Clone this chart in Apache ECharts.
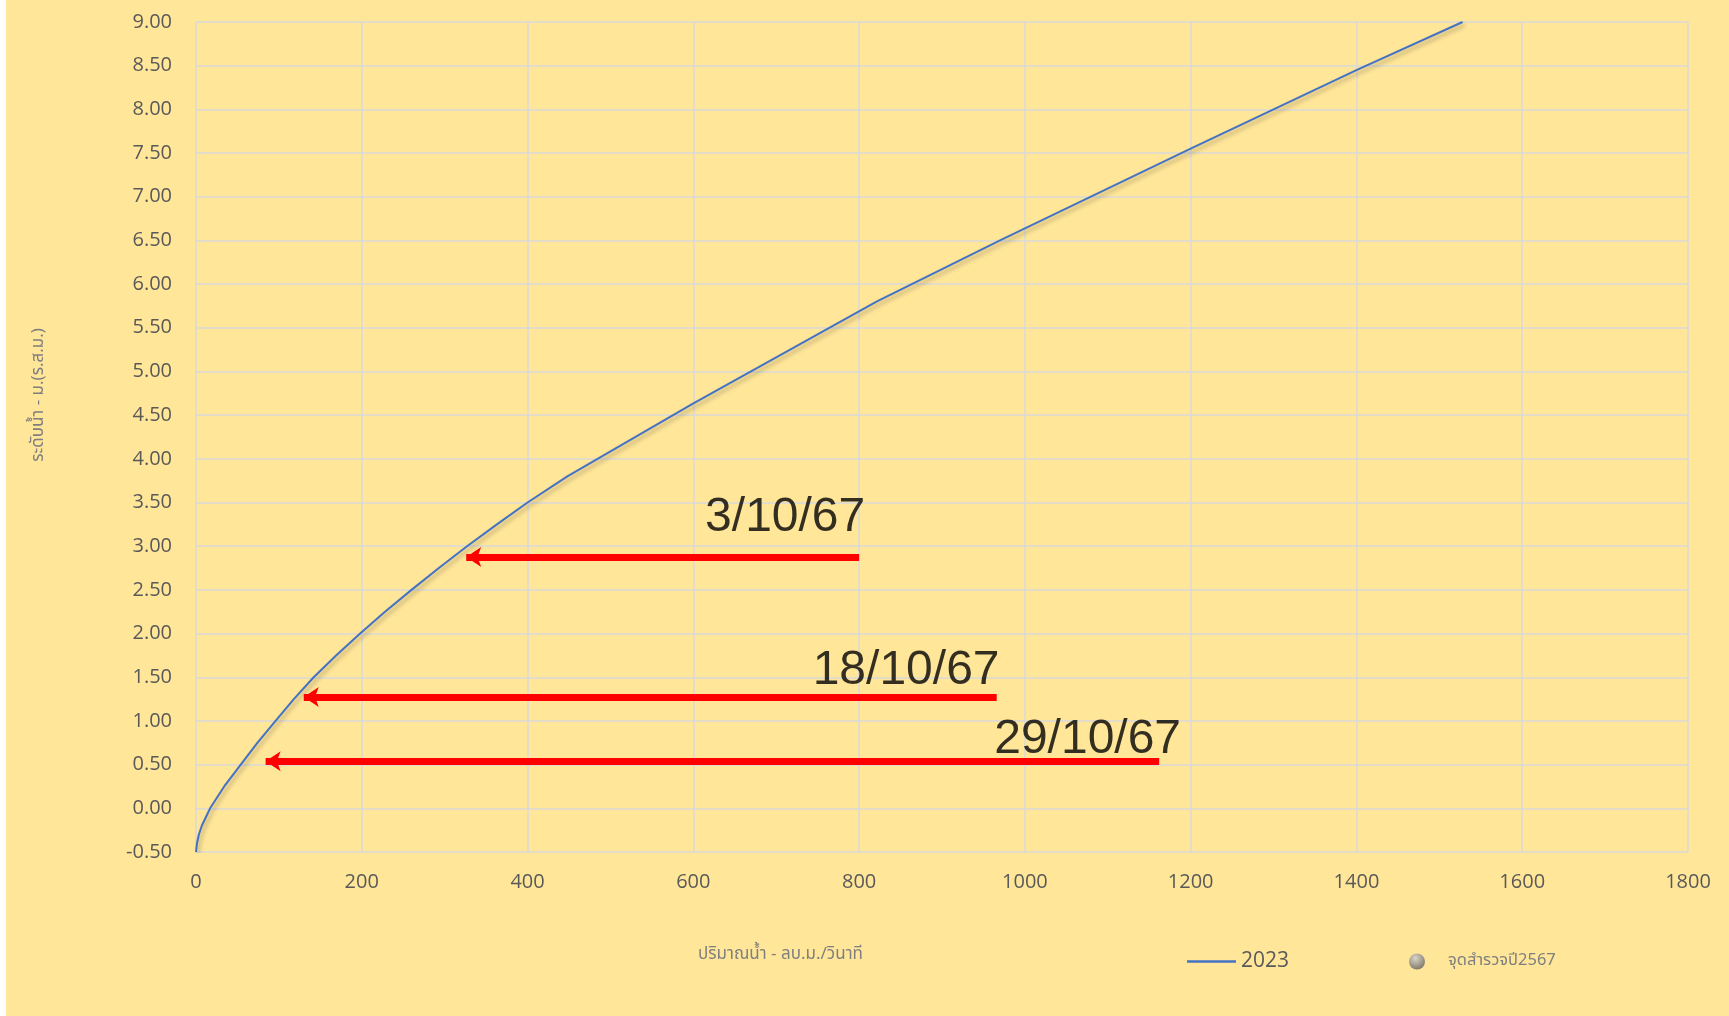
<!DOCTYPE html>
<html>
<head>
<meta charset="utf-8">
<title>rating curve</title>
<script src="https://cdn.jsdelivr.net/npm/echarts@6/dist/echarts.min.js"></script>
<style>
    html, body { margin: 0; padding: 0; background: #ffffff; }
    #chart { position: absolute; left: 6px; top: 0; width: 1723px; height: 1016px; }
</style>
</head>
<body>
<div id="chart"></div>
<script>
// rating curve 2023 : discharge (m3/s) vs water level (m)
var curveQ = [0, 1.2, 3.5, 7, 12, 17, 34, 54, 74, 96, 118, 142, 169, 198, 228, 260, 293, 327, 363, 400, 448, 599, 821, 970, 1200, 1400, 1528];
var curveH = [-0.5, -0.4, -0.3, -0.2, -0.1, 0, 0.25, 0.5, 0.75, 1.0, 1.25, 1.5, 1.75, 2.0, 2.25, 2.5, 2.75, 3.0, 3.25, 3.5, 3.8, 4.63, 5.8, 6.5, 7.55, 8.45, 9.0];

// red arrows (drawn from tail to tip)
var arrowDates = ['3/10/67', '18/10/67', '29/10/67'];
var arrowLevel = [2.876, 1.275, 0.539];
var arrowTailQ = [800, 966, 1162];
var arrowTipQ = [326, 130, 84];
// where each date label sits (right end, middle)
var labelQ = [808, 970, 1189];
var labelH = [3.32, 1.57, 0.78];

var surveyPoints = [];

var xMin = 0, xMax = 1800, xStep = 200;
var yMin = -0.5, yMax = 9, yStep = 0.5;

var curveData = [];
for (var i = 0; i < curveQ.length; i++) {
    curveData.push([curveQ[i], curveH[i]]);
}
var arrowData = [];
var labelData = [];
for (var j = 0; j < arrowDates.length; j++) {
    arrowData.push({ coords: [[arrowTailQ[j], arrowLevel[j]], [arrowTipQ[j], arrowLevel[j]]] });
    labelData.push({ name: arrowDates[j], value: [labelQ[j], labelH[j]] });
}

var gridColor = '#D9D9D9';
var labelColor = '#595959';
var thaiFont = '"Noto Sans Thai", "Tahoma", "DejaVu Sans", sans-serif';

var myChart = echarts.init(document.getElementById('chart'));
var option = {
    backgroundColor: '#FFE699',
    animation: false,
    grid: { left: 190, right: 41, top: 22, bottom: 164 },
    xAxis: {
        type: 'value',
        min: xMin, max: xMax, interval: xStep,
        axisLine: { show: false },
        axisTick: { show: false },
        axisLabel: {
            color: labelColor, fontSize: 20, fontFamily: 'Open Sans', margin: 20,
            formatter: function (v) { return String(v); }
        },
        splitLine: { show: true, lineStyle: { color: gridColor, width: 1.5 } }
    },
    yAxis: {
        type: 'value',
        min: yMin, max: yMax, interval: yStep,
        axisLine: { show: false },
        axisTick: { show: false },
        axisLabel: {
            color: labelColor, fontSize: 20, fontFamily: 'Open Sans', margin: 24,
            formatter: function (v) { return v.toFixed(2); }
        },
        splitLine: { show: true, lineStyle: { color: gridColor, width: 1.5 } }
    },
    legend: [{
        data: [{ name: '2023', icon: 'rect' }],
        left: 1176, top: 946,
        itemWidth: 49, itemHeight: 2.5,
        itemStyle: { color: '#4472C4' },
        textStyle: { color: labelColor, fontSize: 21, fontFamily: 'Open Sans' }
    }, {
        data: ['จุดสำรวจปี2567'],
        left: 1398, top: 948,
        itemWidth: 52, itemHeight: 16,
        icon: 'circle',
        textStyle: { color: '#7F7F7F', fontSize: 16.5, fontFamily: thaiFont }
    }],
    graphic: [{
        type: 'text',
        left: 692, top: 947,
        style: { text: 'ปริมาณน้ำ - ลบ.ม./วินาที', fill: '#7F7F7F', font: '17px ' + thaiFont }
    }, {
        type: 'text',
        x: 34, y: 395,
        rotation: Math.PI / 2,
        style: {
            text: 'ระดับน้ำ - ม.(ร.ส.ม.)', fill: '#7F7F7F', font: '17px ' + thaiFont,
            align: 'center', verticalAlign: 'middle'
        }
    }],
    series: [{
        name: '2023',
        type: 'line',
        data: curveData,
        symbol: 'none',
        smooth: false,
        itemStyle: { color: '#4472C4' },
        lineStyle: {
            color: '#4472C4', width: 2,
            shadowColor: 'rgba(0,0,0,0.3)', shadowBlur: 4, shadowOffsetX: 2, shadowOffsetY: 3
        },
        z: 3
    }, {
        name: 'จุดสำรวจปี2567',
        type: 'scatter',
        data: surveyPoints,
        symbolSize: 16,
        itemStyle: {
            color: new echarts.graphic.RadialGradient(0.4, 0.3, 0.75, [
                { offset: 0, color: '#D0D0D0' },
                { offset: 1, color: '#5A5A5A' }
            ])
        }
    }, {
        name: 'arrows',
        type: 'lines',
        coordinateSystem: 'cartesian2d',
        data: arrowData,
        symbol: ['none', 'arrow'],
        symbolSize: 15,
        lineStyle: { color: '#FF0000', width: 7, opacity: 1, curveness: 0 },
        z: 4
    }, {
        name: 'dates',
        type: 'scatter',
        data: labelData,
        symbolSize: 1,
        itemStyle: { color: 'rgba(0,0,0,0)' },
        label: {
            show: true,
            position: [0, 0],
            align: 'right',
            verticalAlign: 'middle',
            formatter: '{b}',
            color: '#000000',
            fontSize: 48,
            fontFamily: 'Liberation Sans'
        },
        z: 5
    }]
};
myChart.setOption(option);
</script>
</body>
</html>
